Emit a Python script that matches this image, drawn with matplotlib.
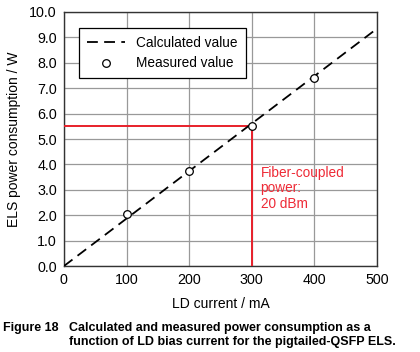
import numpy as np
import matplotlib
matplotlib.use("Agg")
import matplotlib.pyplot as plt

plt.rcParams['font.family'] = ['Liberation Sans', 'DejaVu Sans']

calc_current = [0, 500]
calc_power = [0.0, 9.35]
meas_current = [100, 200, 300, 400]
meas_power = [2.05, 3.75, 5.5, 7.4]
mark_current = 300
mark_power = 5.5


def main():
    fig = plt.figure(figsize=(4.2, 3.52), dpi=100)
    ax = fig.add_axes([0.152, 0.244, 0.746, 0.722])

    ax.plot([0, mark_current], [mark_power, mark_power], color='#e8202a', lw=1.4, zorder=3)
    ax.plot([mark_current, mark_current], [0, mark_power], color='#e8202a', lw=1.4, zorder=3)
    ax.plot(calc_current, calc_power, color='black', lw=1.3, dashes=(6, 3.5),
            label='Calculated value', zorder=4)
    ax.plot(meas_current, meas_power, 'o', mfc='white', mec='black', ms=5.5, mew=0.9,
            label='Measured value', zorder=5)

    ax.text(314, 3.95, 'Fiber-coupled\npower:\n20 dBm', color='#ee2a36', fontsize=9.8,
            va='top', ha='left', linespacing=1.15)

    ax.set_xlim(0, 500)
    ax.set_ylim(0, 10)
    ax.set_xticks(np.arange(0, 501, 100))
    ax.set_yticks(np.arange(0, 10.1, 1))
    ax.set_yticklabels(['%.1f' % v for v in np.arange(0, 10.1, 1)])
    ax.tick_params(length=0, labelsize=10.3, pad=5)
    ax.grid(True, color='#999999', lw=0.9)
    ax.set_axisbelow(True)
    for s in ax.spines.values():
        s.set_linewidth(1.0)
        s.set_color('#333333')

    ax.set_xlabel('LD current / mA', fontsize=10, labelpad=7)
    ax.set_ylabel('ELS power consumption / W', fontsize=10, labelpad=6)

    leg = ax.legend(loc='upper left', bbox_to_anchor=(0.048, 0.937), fontsize=9.8,
                    fancybox=False, framealpha=1, edgecolor='black',
                    handlelength=2.8, borderpad=0.6, labelspacing=0.45,
                    borderaxespad=0)
    leg.get_frame().set_linewidth(0.9)

    fig.text(0.008, 0.084, 'Figure 18', fontsize=9, fontweight='bold', va='top')
    fig.text(0.165, 0.084, 'Calculated and measured power consumption as a\n'
             'function of LD bias current for the pigtailed-QSFP ELS.',
             fontsize=9, fontweight='bold', va='top', linespacing=1.2)

    fig.savefig('out.png', dpi=100)


if __name__ == '__main__':
    main()
